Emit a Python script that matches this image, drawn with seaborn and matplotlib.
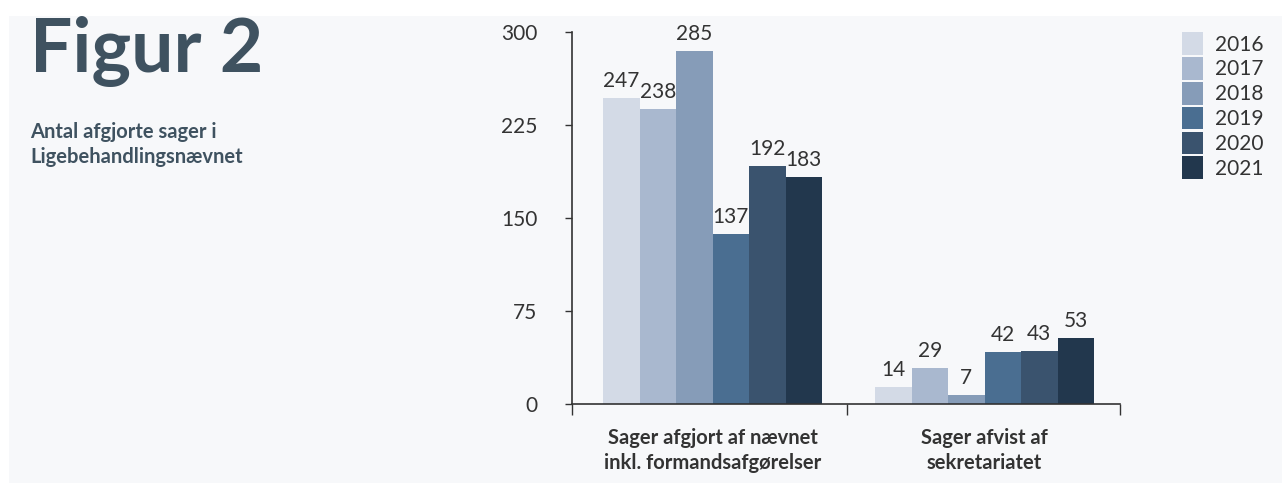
import pandas as pd
import matplotlib.pyplot as plt
import seaborn as sns
from matplotlib.ticker import FixedLocator

sns.set_style("white")
plt.rcParams['font.family'] = ['Lato', 'DejaVu Sans']

# data
categories = ["Sager afgjort af nævnet\ninkl. formandsafgørelser", "Sager afvist af\nsekretariatet"]
years = ["2016", "2017", "2018", "2019", "2020", "2021"]
afgjort = [247, 238, 285, 137, 192, 183]
afvist = [14, 29, 7, 42, 43, 53]
colors = ["#d3dae6", "#a9b8cf", "#869cb8", "#4a6e91", "#3a536e", "#22374d"]

df = pd.DataFrame({
    "kategori": [categories[0]] * 6 + [categories[1]] * 6,
    "år": years + years,
    "antal": afgjort + afvist,
})

bg = "#f7f8fa"
fig = plt.figure(figsize=(12.82, 4.83), dpi=100)
fig.patch.set_facecolor("white")
# lys baggrund bag det hele
fig.patches.append(plt.Rectangle((9 / 1282, 0), 1, 1 - 16 / 483, transform=fig.transFigure,
                                 facecolor=bg, edgecolor="none", zorder=-10))

ax = fig.add_axes([572 / 1282, 1 - 404 / 483, (1120 - 572) / 1282, (404 - 32) / 483])
ax.set_facecolor(bg)
sns.barplot(data=df, x="kategori", y="antal", hue="år", palette=colors, ax=ax,
            width=0.805, saturation=1, edgecolor="none")

for c in ax.containers:
    ax.bar_label(c, fontsize=15, color="#333333", padding=5)

ax.set_ylim(0, 300)
ax.set_yticks([0, 75, 150, 225, 300])
ax.set_xlim(-0.517, 1.498)
ax.set_xlabel("")
ax.set_ylabel("")
ax.tick_params(axis="y", left=True, labelsize=15, labelcolor="#333333", length=5, width=1,
               color="#333333", pad=20)
ax.tick_params(axis="x", which="major", length=0, pad=17)
ax.xaxis.set_minor_locator(FixedLocator([-0.517, 0.494, 1.498]))
ax.tick_params(axis="x", which="minor", bottom=True, length=8, width=1, color="#333333", direction="out")
for lab in ax.get_xticklabels():
    lab.set_fontweight("bold")
    lab.set_fontsize(14.5)
    lab.set_color("#333333")
    lab.set_linespacing(1.35)

for s in ["top", "right"]:
    ax.spines[s].set_visible(False)
for s in ["left", "bottom"]:
    ax.spines[s].set_color("#333333")
    ax.spines[s].set_linewidth(1.2)

leg = ax.legend(loc="upper left", bbox_to_anchor=(1174 / 1282, 1 - 24 / 483),
                bbox_transform=fig.transFigure, frameon=False, fontsize=15,
                handlelength=1.0, handleheight=1.3, labelspacing=0.1, handletextpad=0.55,
                borderaxespad=0)
for t in leg.get_texts():
    t.set_color("#333333")

fig.text(30 / 1282, 1 - 72 / 483, "Figur 2", fontsize=54, fontweight="bold", color="#3f5260")
fig.text(30 / 1282, 1 - 163 / 483, "Antal afgjorte sager i\nLigebehandlingsnævnet",
         fontsize=14.5, fontweight="bold", color="#3f5260", linespacing=1.3)

fig.savefig("out.png", dpi=100, facecolor=fig.get_facecolor())
